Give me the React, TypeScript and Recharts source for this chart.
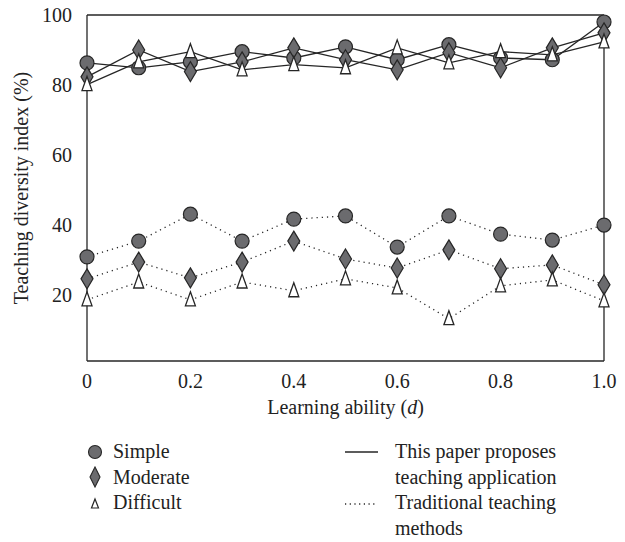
import React from "react";
import { LineChart, Line, XAxis, YAxis, ReferenceLine, Label } from "recharts";

const xValues = [0, 0.1, 0.2, 0.3, 0.4, 0.5, 0.6, 0.7, 0.8, 0.9, 1.0];
const xTicks = [0, 0.2, 0.4, 0.6, 0.8, 1.0];
const yTicks = [20, 40, 60, 80, 100];

// solid lines: this paper proposes teaching application
const simpleProposed = [86.3, 84.9, 86.6, 89.5, 87.7, 90.9, 87.2, 91.5, 87.7, 87.2, 98.0];
const moderateProposed = [82.3, 90.0, 83.8, 86.6, 90.6, 87.2, 84.3, 89.2, 84.9, 90.6, 94.9];
const difficultProposed = [80.1, 86.6, 89.5, 84.3, 85.8, 84.9, 90.6, 86.3, 89.5, 88.6, 92.3];

// dotted lines: traditional teaching methods
const simpleTraditional = [30.8, 35.3, 43.0, 35.3, 41.6, 42.5, 33.6, 42.5, 37.3, 35.6, 39.9];
const moderateTraditional = [24.5, 29.3, 24.8, 29.3, 35.3, 30.2, 27.6, 32.8, 27.4, 28.5, 22.8];
const difficultTraditional = [18.5, 23.6, 18.5, 23.6, 21.1, 24.5, 21.9, 13.1, 22.5, 24.2, 18.2];

const data = xValues.map((d, i) => ({
  d,
  simpleProposed: simpleProposed[i],
  moderateProposed: moderateProposed[i],
  difficultProposed: difficultProposed[i],
  simpleTraditional: simpleTraditional[i],
  moderateTraditional: moderateTraditional[i],
  difficultTraditional: difficultTraditional[i],
}));

const FONT = "'Liberation Serif', 'DejaVu Serif', serif";
const INK = "#262626";
const GREY = "#6b6b6e";
const DOTTED = "1.2 4";

const circleDot = (props: any) => (
  <circle key={"c" + props.index} cx={props.cx} cy={props.cy} r={7} fill={GREY} stroke={INK} strokeWidth={1.2} />
);

const diamondDot = (props: any) => {
  const { cx, cy } = props;
  return (
    <path
      key={"m" + props.index}
      d={`M${cx},${cy - 10} L${cx + 6},${cy} L${cx},${cy + 10} L${cx - 6},${cy} Z`}
      fill={GREY}
      stroke={INK}
      strokeWidth={1.2}
    />
  );
};

const triangleDot = (props: any) => {
  const { cx, cy } = props;
  return (
    <path
      key={"t" + props.index}
      d={`M${cx},${cy - 8} L${cx + 5},${cy + 6} L${cx - 5},${cy + 6} Z`}
      fill="#fff"
      stroke={INK}
      strokeWidth={1.3}
    />
  );
};

const fmtX = (v: number) => (v === 0 ? "0" : v.toFixed(1));

function LegendMarker({ kind }: { kind: string }) {
  return (
    <svg width={16} height={22} style={{ display: "block" }}>
      {kind === "circle" && <circle cx={8} cy={11} r={6.5} fill={GREY} stroke={INK} strokeWidth={1.1} />}
      {kind === "diamond" && <path d="M8,1 L13,11 L8,21 L3,11 Z" fill={GREY} stroke={INK} strokeWidth={1.1} />}
      {kind === "triangle" && <path d="M8,7 L11.5,16 L4.5,16 Z" fill="#fff" stroke={INK} strokeWidth={1.2} />}
    </svg>
  );
}

export default function App() {
  const rowStyle: React.CSSProperties = { display: "flex", alignItems: "center", height: 25.5 };
  return (
    <div style={{ position: "absolute", left: 0, top: 0, width: 625, height: 542, background: "#fff", fontFamily: FONT }}>
      <LineChart width={625} height={430} data={data} margin={{ top: 15, right: 21, bottom: 19, left: 0 }}>
        <XAxis
          dataKey="d"
          type="number"
          domain={[0, 1]}
          ticks={xTicks}
          tickFormatter={fmtX}
          height={50}
          tickLine={false}
          axisLine={{ stroke: INK, strokeWidth: 1.3 }}
          tick={{ fill: "#222", fontSize: 20, fontFamily: FONT }}
          tickMargin={7}
        >
          <Label
            position="insideBottom"
            content={(p: any) => {
              const vb = p.viewBox;
              return (
                <text x={vb.x + vb.width / 2} y={vb.y + 53} textAnchor="middle" fill="#222" fontSize={20} fontFamily={FONT}>
                  Learning ability (<tspan fontStyle="italic">d</tspan>)
                </text>
              );
            }}
          />
        </XAxis>
        <YAxis
          type="number"
          domain={[1, 100]}
          ticks={yTicks}
          width={87}
          tickLine={false}
          axisLine={{ stroke: INK, strokeWidth: 1.3 }}
          tick={{ fill: "#222", fontSize: 20, fontFamily: FONT }}
          tickMargin={9}
        >
          <Label
            angle={-90}
            position="insideLeft"
            content={(p: any) => {
              const vb = p.viewBox;
              const cy = vb.y + vb.height / 2;
              return (
                <text x={21} y={cy} transform={`rotate(-90 21 ${cy})`} textAnchor="middle" dominantBaseline="central" fill="#222" fontSize={20} fontFamily={FONT}>
                  Teaching diversity index (%)
                </text>
              );
            }}
          />
        </YAxis>
        <ReferenceLine y={100} stroke={INK} strokeWidth={1.3} />
        <ReferenceLine x={1} stroke={INK} strokeWidth={1.3} />

        <Line dataKey="simpleTraditional" stroke={INK} strokeWidth={1.3} strokeDasharray={DOTTED} dot={circleDot} isAnimationActive={false} />
        <Line dataKey="moderateTraditional" stroke={INK} strokeWidth={1.3} strokeDasharray={DOTTED} dot={diamondDot} isAnimationActive={false} />
        <Line dataKey="difficultTraditional" stroke={INK} strokeWidth={1.3} strokeDasharray={DOTTED} dot={triangleDot} isAnimationActive={false} />
        <Line dataKey="simpleProposed" stroke={INK} strokeWidth={1.3} dot={circleDot} isAnimationActive={false} />
        <Line dataKey="moderateProposed" stroke={INK} strokeWidth={1.3} dot={diamondDot} isAnimationActive={false} />
        <Line dataKey="difficultProposed" stroke={INK} strokeWidth={1.3} dot={triangleDot} isAnimationActive={false} />
      </LineChart>

      <div style={{ position: "absolute", left: 87, top: 439, fontSize: 20, color: "#222" }}>
        {[
          ["circle", "Simple"],
          ["diamond", "Moderate"],
          ["triangle", "Difficult"],
        ].map(([k, t]) => (
          <div key={k} style={rowStyle}>
            <LegendMarker kind={k} />
            <span style={{ marginLeft: 10 }}>{t}</span>
          </div>
        ))}
      </div>

      <div style={{ position: "absolute", left: 345, top: 439, fontSize: 20, color: "#222", lineHeight: "25.5px" }}>
        <div style={{ display: "flex" }}>
          <svg width={33} height={25} style={{ flex: "none" }}>
            <line x1={0} y1={13} x2={33} y2={13} stroke={INK} strokeWidth={1.3} />
          </svg>
          <div style={{ marginLeft: 17 }}>
            This paper proposes
            <br />
            teaching application
          </div>
        </div>
        <div style={{ display: "flex" }}>
          <svg width={33} height={25} style={{ flex: "none" }}>
            <line x1={0} y1={14} x2={31} y2={14} stroke={INK} strokeWidth={1.3} strokeDasharray="1.2 3.5" />
          </svg>
          <div style={{ marginLeft: 17 }}>
            Traditional teaching
            <br />
            methods
          </div>
        </div>
      </div>
    </div>
  );
}
